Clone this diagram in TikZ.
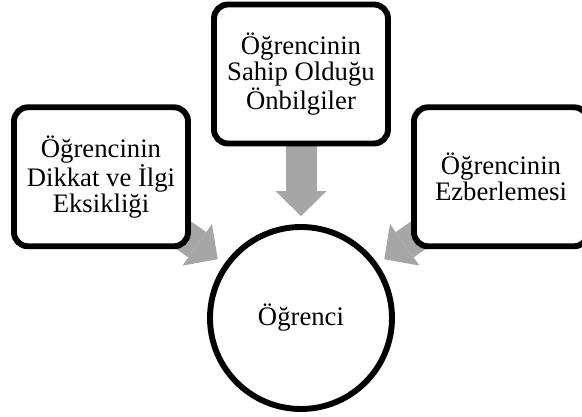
\documentclass[tikz,border=0pt]{standalone}
\usepackage{fontspec}
\setmainfont{Liberation Serif}
\usepackage{tikz}
\usetikzlibrary{arrows.meta}
\usetikzlibrary{backgrounds}
\usetikzlibrary{positioning}
\definecolor{okgri}{RGB}{166,166,166}

\begin{document}
\begin{tikzpicture}[node distance = 6.1cm, auto,
		kutu/.style={draw, line width=4.2pt, fill=white, rounded corners=0.35cm,
			minimum width=4.35cm, minimum height=3.475cm, inner sep=0pt, align=center,
			font=\fontsize{19}{18.5}\selectfont},
		daire/.style={draw, circle, line width=4.2pt, fill=white, minimum size=4.55cm,
			inner sep=0pt, font=\fontsize{19}{18.5}\selectfont},
		okcuk/.style={okgri, line width=0.775cm, shorten >=0.2cm,
			-{Triangle[length=0.625cm, width=1.275cm, line width=0pt]}}]
			\useasboundingbox (-7.525,-2.475) rectangle (7.025,7.95);
			\node[daire] (Ogrenci) {Öğrenci};
			\node[kutu, above of=Ogrenci] (Onbilgi) {Öğrencinin\\Sahip Olduğu\\Önbilgiler};
			\node[kutu] (Dikkat) at (-5,3.53) {Öğrencinin\\Dikkat ve İlgi\\Eksikliği};
			\node[kutu] (Ezber) at (5,3.53) {Öğrencinin\\Ezberlemesi};
			\begin{scope}[on background layer]
				\draw[okcuk] (Onbilgi.center) -- (Ogrenci);
				\draw[okcuk] (Dikkat.center) -- (Ogrenci);
				\draw[okcuk] (Ezber.center) -- (Ogrenci);
			\end{scope}
		\end{tikzpicture}
\end{document}
